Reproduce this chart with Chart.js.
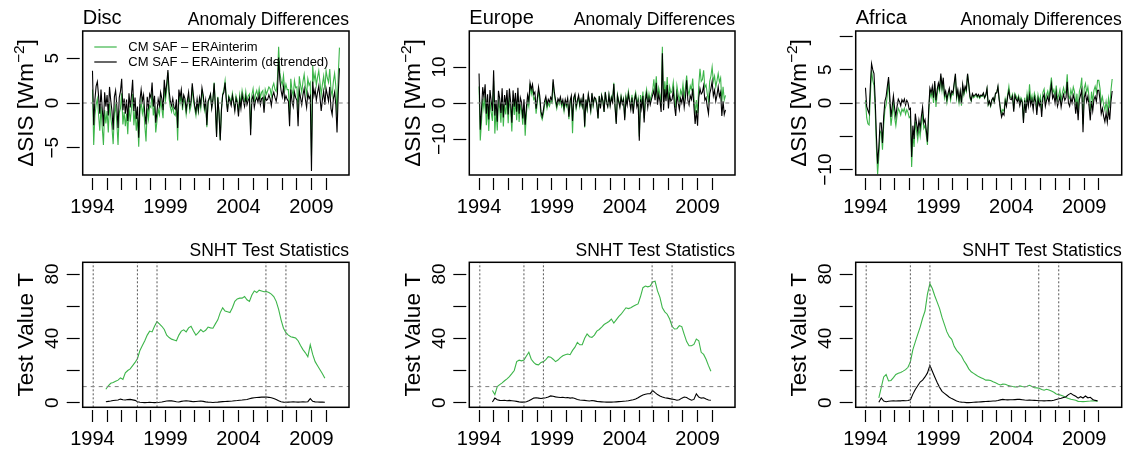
<!DOCTYPE html>
<html><head><meta charset="utf-8">
<script src="https://cdn.jsdelivr.net/npm/chart.js@4.4.1/dist/chart.umd.min.js"></script>
<style>
html,body{margin:0;padding:0;background:#fff;}
body{width:1125px;height:453px;position:relative;overflow:hidden;}
canvas{position:absolute;}
</style></head>
<body>
<canvas id="c0"></canvas><canvas id="c1"></canvas><canvas id="c2"></canvas>
<canvas id="c3"></canvas><canvas id="c4"></canvas><canvas id="c5"></canvas>
<script>
// ---------------- data ----------------
const monthlyStart = 1994;          // Jan 1994, monthly values
const snhtStart = 1994 + 11 / 12;   // SNHT statistics, every 2 months
const snhtStep = 1 / 6;

const yearTicks = [1994,1995,1996,1997,1998,1999,2000,2001,2002,2003,2004,2005,2006,2007,2008,2009,2010];
const yearLabels = [1994, 1999, 2004, 2009];
const breakYears = [1994.05, 1997.08, 1998.42, 2005.88, 2007.25];
const snhtThreshold = 10;

const regions = ['Disc', 'Europe', 'Africa'];
const topSubtitle = 'Anomaly Differences';
const bottomSubtitle = 'SNHT Test Statistics';
const seriesNames = ['CM SAF – ERAinterim', 'CM SAF – ERAinterim (detrended)'];
const topYTitle = ['ΔSIS [Wm', '−2', ']'];
const bottomYTitle = ['Test Value T'];

const discTicks = [-5, 0, 5];        const discTickLabels = ['−5', '0', '5'];
const europeTicks = [-10, 0, 10];    const europeTickLabels = ['−10', '0', '10'];
const africaTicks = [-10, -5, 0, 5, 10]; const africaTickLabels = ['−10', '', '0', '5', ''];
const snhtTicks = [0, 20, 40, 60, 80];   const snhtTickLabels = ['0', '', '40', '', '80'];

const discDiff = [
 1.5,-4.7,-1.4,-0.2,0.5,-1.3,-3.1,-0.4,-2.7,-4.7,-0.8,-2.3,
 -0.9,-3.3,0.1,-1.6,-2.7,-4.6,-1.2,-0.3,-2.2,-4.7,-1.1,-0.6,
 1.1,-2.4,-1.0,-2.6,-1.2,-3.5,-0.3,-2.1,-0.7,1.0,-2.5,-0.8,
 -3.1,-1.6,-4.9,-1.0,0.2,-1.2,-0.4,-2.5,-4.3,-0.6,-1.8,-0.3,
 -0.5,1.2,-1.4,-0.3,-3.3,-2.0,-0.7,-1.3,0.3,-0.6,-1.7,1.7,
 0.3,1.5,3.4,0.5,-0.5,-1.0,-0.3,-1.2,-1.4,-0.4,-4.2,0.8,
 0.0,1.0,-0.8,0.5,0.0,-1.3,-0.2,0.7,-0.9,-0.3,1.8,0.2,
 -0.6,-1.4,0.1,-1.0,0.3,-0.6,1.5,0.5,-0.8,0.0,-2.7,-0.1,
 0.6,0.9,-0.5,0.3,2.3,-0.2,-3.5,0.7,-1.0,-4.1,-0.6,1.0,
 1.5,2.5,0.6,-0.7,0.8,0.5,0.0,1.1,0.2,-0.6,0.8,0.3,
 -1.0,0.9,-0.1,1.4,0.7,0.1,1.3,0.2,0.8,1.0,-2.9,0.9,
 1.6,0.2,1.0,1.4,0.7,1.6,0.6,1.2,1.4,-0.4,1.5,1.0,
 1.4,1.8,1.6,0.8,1.8,2.2,1.5,1.3,2.6,6.3,3.4,2.5,
 2.0,3.1,1.4,2.1,1.5,1.5,-1.3,2.7,1.4,0.8,2.5,1.7,
 1.8,-1.0,3.0,2.0,1.2,2.4,3.2,1.8,1.0,2.7,2.0,2.3,
 -5.9,4.2,2.5,3.3,2.0,2.9,3.6,2.3,0.9,2.1,3.0,1.5,
 3.6,2.8,2.3,3.8,1.5,0.8,2.4,3.3,1.9,-1.4,3.1,6.2];
const discDiffDetr = [
 3.6,-2.5,0.4,1.9,2.4,0.8,-1.2,1.5,-0.6,-2.6,1.2,-0.4,
 0.9,-1.4,1.8,0.3,-0.9,-3.0,0.7,1.4,-0.3,-2.8,0.6,1.3,
 2.7,-0.8,0.5,-1.2,0.4,-2.0,1.1,-0.5,0.8,2.6,-0.9,0.6,
 -1.8,-0.4,-3.9,0.3,1.5,0.2,0.9,-1.2,-2.4,0.7,-0.5,1.0,
 0.6,2.3,-0.4,0.8,-2.2,-1.0,0.4,-0.3,1.2,0.5,-0.8,2.6,
 1.0,2.1,3.7,1.3,0.2,-0.3,0.5,-0.5,-0.7,0.4,-2.8,1.5,
 0.6,1.5,-0.2,0.9,0.5,-0.8,0.3,1.2,-0.4,0.2,2.2,0.8,
 -0.3,-1.0,0.4,-0.8,0.6,-0.2,1.7,0.9,-0.5,0.3,-2.5,0.2,
 0.5,1.0,-0.6,0.4,2.2,-0.4,-3.8,0.6,-1.2,-4.2,-0.8,0.9,
 1.2,2.3,0.3,-1.0,0.6,0.2,-0.3,0.8,0.1,-0.9,0.5,0.0,
 -1.5,0.4,-0.6,0.9,0.2,-0.4,0.7,-0.2,0.3,0.6,-3.6,0.4,
 0.8,-0.5,0.3,0.6,0.1,0.9,-0.2,0.5,0.6,-1.1,0.7,0.3,
 0.4,0.9,0.5,-0.3,0.8,1.2,0.6,0.2,1.0,5.1,2.6,1.4,
 0.7,1.8,0.3,0.8,0.4,0.2,-2.6,1.5,0.2,-0.4,1.2,0.6,
 0.3,-2.6,1.4,0.6,-0.2,0.9,1.6,0.4,-0.5,1.1,0.5,0.8,
 -7.6,2.4,0.8,1.5,0.3,1.2,1.9,0.6,-0.9,0.4,1.3,-0.2,
 1.6,0.9,0.2,1.8,-0.6,-1.3,0.5,1.2,-0.2,-3.3,1.0,3.9];

const europeDiff = [
 4.6,-10.4,-5.2,1.2,-1.6,2.0,-6.2,-0.6,-7.8,0.5,-2.6,-5.0,
 6.2,-8.5,-1.8,-7.6,0.6,-1.4,-5.5,1.6,-6.5,-0.4,-3.2,1.0,
 -5.6,1.6,-1.9,-7.9,1.2,-3.3,0.5,-4.8,1.9,-5.3,-0.8,-2.1,
 -6.0,-0.5,-9.1,-2.8,0.6,-1.0,5.4,2.4,3.8,1.0,1.5,-3.0,
 0.2,3.2,1.0,-3.5,-4.6,-3.0,-0.6,0.8,-1.5,0.0,-0.9,0.5,
 0.0,5.7,2.3,0.0,-1.6,0.5,-0.4,0.9,-1.0,0.1,-2.3,0.2,
 -1.0,0.7,-4.5,0.0,1.4,-8.4,0.8,1.9,-1.6,0.1,1.6,-1.1,
 0.7,-1.1,2.3,-6.8,0.7,-1.8,2.1,0.0,-2.3,2.5,-0.8,1.3,
 1.3,-0.4,-4.2,2.0,-1.3,2.2,0.6,-2.4,3.1,0.3,-0.9,2.3,
 -0.4,1.8,0.6,5.6,-0.6,-5.4,2.4,0.8,-0.8,2.0,0.1,1.3,
 -4.0,2.0,0.2,3.3,1.1,-1.0,2.3,-2.2,1.6,3.0,-0.2,1.3,
 -9.3,2.2,-0.3,3.2,-4.2,2.0,3.8,0.0,2.6,0.7,2.2,3.4,
 6.6,2.6,7.4,1.3,4.2,2.4,-0.7,15.6,0.0,6.0,2.3,7.2,
 0.8,4.5,2.8,3.3,5.8,1.5,-1.3,4.8,2.5,0.5,3.5,2.3,
 5.3,1.6,4.3,7.6,3.6,2.3,4.8,3.8,6.8,1.8,-3.0,0.8,
 -2.8,5.0,9.5,6.0,6.5,9.1,4.3,5.0,2.5,0.5,6.0,7.5,
 10.0,6.0,7.5,4.5,6.2,8.2,5.8,7.0,0.4,4.5,0.8,2.1];
const europeDiffDetr = [
 8.2,-7.4,-2.0,4.4,1.6,5.2,-3.0,2.4,-4.6,3.6,0.5,-2.2,
 9.1,-3.5,0.8,-5.2,3.4,1.2,-2.8,4.1,-4.0,2.2,-0.6,3.6,
 -3.2,4.0,0.4,-5.5,3.5,-1.0,2.8,-2.4,4.2,-3.0,1.5,0.2,
 -4.3,1.0,-6.0,-1.2,2.2,0.5,5.6,3.8,5.2,2.4,3.0,-1.6,
 1.2,4.4,2.0,-2.4,-3.8,-2.0,0.5,1.8,-0.6,1.0,0.2,1.6,
 0.8,6.6,3.0,0.9,-0.8,1.2,0.4,1.7,-0.2,0.9,-1.5,1.0,
 -0.4,1.3,-3.8,0.6,2.0,-5.0,1.5,2.5,-1.0,0.7,2.2,-0.5,
 1.0,-0.8,2.6,-6.5,1.0,-1.5,2.4,0.3,-2.0,2.8,-0.5,1.6,
 1.2,-0.5,-4.3,1.9,-1.5,2.0,0.6,-2.5,3.0,0.2,-1.0,2.2,
 -0.8,1.4,0.2,5.3,-1.0,-5.8,2.0,0.4,-1.2,1.6,-0.3,0.9,
 -4.8,1.2,-0.6,2.5,0.3,-1.8,1.5,-3.0,0.8,2.2,-1.0,0.5,
 -10.5,1.0,-1.5,2.0,-5.4,0.8,2.6,-1.2,1.4,-0.5,1.0,2.2,
 3.5,0.8,5.6,-0.5,2.4,0.6,-2.5,13.8,-2.0,3.8,0.5,5.0,
 -1.5,2.2,0.5,1.0,3.5,-0.8,-3.6,2.5,0.2,-1.8,1.2,0.0,
 2.5,-1.2,1.5,6.3,0.8,-0.5,2.0,1.0,4.0,-1.0,-5.8,-2.0,
 -6.3,1.5,4.0,2.5,3.0,4.8,0.8,1.5,-1.0,-3.0,2.5,4.0,
 6.0,2.0,3.5,0.5,2.2,4.5,1.8,3.0,-3.6,0.5,-3.2,-1.9];

const africaDiff = [
 0.4,-2.2,-3.1,-3.3,1.0,4.9,3.4,2.6,-1.0,-6.6,-10.7,-8.0,
 -4.2,-4.5,-7.0,-3.3,-1.0,-0.3,1.2,3.4,-0.3,-3.4,-1.8,-0.2,
 -2.2,-3.4,-1.9,-0.8,-1.2,-1.8,-0.9,-1.3,-0.8,-1.7,-1.0,-1.4,
 -2.2,-2.0,-9.6,-4.6,-6.6,-2.8,-4.2,-5.5,-3.8,-5.0,-3.2,-1.8,
 -3.8,-3.3,-4.8,-6.3,-1.8,1.6,0.9,1.8,0.0,2.8,-0.6,1.3,
 2.6,1.8,4.0,1.9,3.4,0.7,1.4,0.0,1.1,1.8,0.4,1.4,
 1.2,2.7,4.1,0.6,1.7,0.0,1.5,-0.4,2.5,1.2,2.2,1.7,
 4.3,2.6,0.7,0.3,1.2,0.8,1.0,1.2,0.8,1.1,0.7,1.0,
 1.0,1.4,0.7,1.1,2.1,-0.3,0.2,-0.5,0.4,0.7,0.1,1.4,
 1.6,2.4,0.7,-0.6,-1.5,-1.0,-1.2,0.6,-0.2,1.3,2.5,0.9,
 0.8,1.3,-0.9,1.4,1.0,0.5,1.1,-0.1,0.8,0.4,-2.6,0.8,
 -0.8,1.4,0.1,2.8,0.3,1.1,-0.4,1.5,0.9,-1.1,1.2,0.2,
 1.0,-1.2,1.6,2.1,0.3,1.2,1.8,0.8,2.3,3.8,1.5,2.0,
 1.0,2.6,0.5,1.2,2.0,0.4,1.5,2.3,1.4,1.8,4.3,1.0,
 0.7,2.0,1.2,2.4,1.7,-0.4,1.4,-1.4,1.7,2.4,3.8,-3.2,
 2.2,2.9,1.6,2.4,0.9,-1.2,1.7,0.2,1.9,2.5,1.6,3.4,
 3.4,2.2,0.1,0.9,-0.3,-1.1,0.2,-1.2,0.7,-0.8,1.9,3.6];
const africaDiffDetr = [
 2.3,-0.5,-1.1,-1.6,2.5,5.9,5.0,4.4,0.5,-5.0,-9.1,-6.6,
 -3.0,-3.0,-6.0,-2.0,0.3,1.0,2.5,3.9,1.0,-2.1,-0.5,1.1,
 -0.8,-2.0,-0.5,0.6,0.2,-0.4,0.5,0.1,0.6,-0.3,0.4,0.0,
 -1.0,-0.8,-8.1,-3.4,-5.4,-1.6,-3.0,-4.3,-2.6,-3.8,-2.0,-0.6,
 -3.0,-2.5,-4.0,-5.8,-1.0,2.2,1.5,2.5,0.8,3.3,0.4,2.0,
 3.0,2.2,4.4,2.4,3.8,1.2,1.8,0.5,1.5,2.2,0.9,1.8,
 1.5,3.0,4.4,1.0,2.0,0.4,1.8,0.0,2.8,1.5,2.5,2.0,
 4.4,2.8,1.0,0.4,1.4,1.0,1.2,1.4,1.0,1.3,0.9,1.2,
 1.1,1.5,0.8,1.2,2.2,-0.2,0.3,-0.4,0.5,0.8,0.2,1.5,
 1.5,2.5,0.5,-1.0,-2.1,-1.5,-1.8,0.3,-0.5,1.0,1.8,0.6,
 0.5,1.0,-1.3,1.1,0.6,0.2,0.8,-0.4,0.5,0.1,-3.0,0.4,
 -1.5,0.7,-0.5,1.2,-0.3,0.5,-1.0,0.9,0.3,-1.8,0.6,-0.4,
 0.2,-2.1,0.8,1.3,-0.5,0.4,1.0,0.0,1.5,2.8,0.7,1.2,
 0.0,1.5,-0.5,0.2,1.0,-0.6,0.5,1.3,0.4,0.8,3.2,0.0,
 -0.5,0.8,0.0,1.2,0.5,-1.6,0.2,-2.6,0.5,1.2,2.0,-4.4,
 0.8,1.5,0.2,1.0,-0.5,-2.6,0.3,-1.2,0.5,1.0,0.2,1.9,
 1.9,0.5,-1.6,-0.8,-2.0,-2.8,-1.5,-2.9,-1.0,-2.5,0.2,1.8];

const discSnht = [
 8.3,10.5,12.0,12.5,13.3,14.0,15.4,14.5,18.5,20.0,21.0,23.0,25.0,
 27.5,32.5,35.5,38.5,42.0,44.5,44.0,47.5,50.4,49.0,47.5,45.5,42.0,40.5,39.5,39.0,38.5,42.0,
 44.5,45.3,44.0,46.5,47.5,44.5,42.0,43.5,45.4,44.0,45.0,47.0,46.5,46.3,49.0,51.5,56.0,59.0,57.0,56.5,56.0,59.0,63.0,64.5,
 65.0,65.0,66.0,64.0,63.0,67.0,69.5,68.5,70.0,69.5,69.0,69.1,68.5,67.5,66.0,63.0,58.0,51.5,
 46.3,43.5,42.0,41.0,40.6,40.2,38.5,35.5,33.0,31.0,28.5,36.0,30.0,25.5,23.0,20.5,18.0,15.1];
const discSnhtDetr = [
 0.6,0.8,1.0,1.3,1.5,1.6,2.2,1.8,1.6,1.9,2.0,1.7,1.4,
 0.5,0.2,0.1,0.0,0.1,0.2,0.1,0.0,0.1,0.2,0.4,0.7,1.0,1.2,1.1,0.9,0.6,0.4,
 0.8,1.0,1.1,1.0,0.8,0.6,0.7,0.9,1.0,0.8,0.5,0.3,0.2,0.1,0.2,0.3,0.5,0.6,0.7,0.8,0.9,1.0,1.2,1.3,
 1.5,1.6,1.8,2.0,2.4,2.8,3.0,3.2,3.3,3.4,3.4,3.5,3.3,3.0,2.6,2.0,1.2,0.6,
 0.3,0.2,0.3,0.4,0.5,0.4,0.3,0.4,0.5,0.4,0.6,2.5,0.8,0.5,0.4,0.3,0.3,0.2];

const europeSnht = [
 7.5,5.0,10.0,11.2,12.3,13.6,14.8,16.2,18.0,20.0,25.5,26.4,26.0,
 26.5,29.0,31.3,27.0,25.0,23.8,23.5,25.0,25.5,26.8,28.6,28.3,27.0,25.5,26.5,28.0,29.2,29.8,
 30.2,29.8,32.5,34.5,37.5,36.0,36.0,40.0,42.7,41.0,40.6,42.0,44.5,45.5,47.0,48.6,49.5,50.5,52.0,49.5,51.5,53.5,55.0,57.0,
 59.0,58.5,59.0,60.0,60.8,61.4,66.0,71.5,72.5,72.0,72.5,75.0,75.5,69.5,65.5,59.0,56.5,55.0,
 52.0,47.5,45.8,46.0,47.9,47.3,42.5,38.0,35.4,35.4,36.2,39.5,38.5,31.3,30.0,27.0,23.0,19.5];
const europeSnhtDetr = [
 0.4,2.8,1.8,1.4,1.3,1.5,1.2,1.4,1.2,1.0,0.8,0.5,0.3,
 0.3,0.6,1.2,2.0,2.8,3.0,2.8,2.6,2.8,3.0,3.5,4.2,4.0,3.6,3.4,3.2,3.3,3.0,
 3.2,2.8,3.0,2.6,2.0,1.6,1.5,1.4,1.2,1.0,1.3,1.1,0.8,0.6,0.5,0.4,0.3,0.3,0.3,0.4,0.5,0.6,0.7,0.9,
 1.0,1.2,1.5,1.8,2.2,3.0,4.0,4.8,5.2,5.5,5.6,7.5,6.2,5.0,4.2,3.5,3.0,2.8,
 2.5,2.2,2.0,1.5,1.8,2.8,3.5,3.2,2.2,1.5,2.0,5.5,3.5,2.8,3.0,2.2,1.6,1.5];

const africaSnht = [
 2.9,9.5,16.0,17.5,13.5,13.8,15.6,17.5,18.3,18.8,19.6,20.5,22.0,
 25.5,33.0,37.8,42.5,47.0,52.5,57.0,67.5,74.1,71.0,66.5,62.5,58.5,53.0,48.5,44.0,41.0,39.4,
 35.0,32.5,30.8,29.0,26.0,23.8,21.0,19.2,18.2,17.2,16.2,15.5,14.8,14.0,14.0,13.8,13.0,12.3,11.6,11.0,11.5,11.4,10.8,10.4,
 10.0,9.8,9.7,10.4,10.0,9.7,10.2,10.8,10.0,9.3,9.2,8.9,8.2,7.7,8.3,7.8,7.2,6.5,
 5.4,5.0,4.6,4.0,3.2,2.6,2.1,1.8,1.5,0.8,0.7,0.6,0.7,0.9,1.0,1.2,1.0,0.8];
const africaSnhtDetr = [
 0.2,2.9,1.0,0.6,0.9,1.0,1.1,1.0,1.2,1.1,1.3,1.2,1.3,
 1.8,5.3,8.2,10.5,12.8,14.0,16.0,18.5,23.2,19.5,16.0,12.5,9.5,7.0,5.8,4.6,3.4,2.5,
 1.8,1.0,0.6,0.3,0.2,0.0,0.0,0.1,0.2,0.3,0.4,0.5,0.6,0.7,0.8,0.9,1.0,1.0,1.3,1.7,2.0,1.8,1.7,1.8,
 1.8,1.9,2.0,2.0,1.8,1.6,1.5,1.6,1.5,1.4,1.3,1.2,1.2,1.1,1.2,1.3,1.2,1.5,
 2.0,2.4,2.7,3.2,3.7,5.0,5.8,4.7,4.0,2.8,3.7,2.9,4.1,3.0,3.3,2.0,1.4,1.2];

// ---------------- layout / style ----------------
const FONT = '"Liberation Sans", Arial, Helvetica, sans-serif';
const GREEN = '#3DB54A';
const X_MIN = 1993.33, X_MAX = 2011.57;
const CANVAS_W = 352;
const COLS = [{left: 0, boxL: 82.7, boxR: 349}, {left: 387, boxL: 82.3, boxR: 348}, {left: 773, boxL: 82.7, boxR: 348.7}];
const ROWS = [{top: 0, h: 226, boxT: 31, boxB: 175}, {top: 226, h: 227, boxT: 36.3, boxB: 181.3}];

const toMonthly = vals => vals.map((v, i) => ({x: monthlyStart + i / 12, y: v}));
const toSnht = vals => vals.map((v, i) => ({x: snhtStart + i * snhtStep, y: v}));

const rPlugin = {
  id: 'rstyle',
  afterDraw(chart, args, o) {
    const ctx = chart.ctx, a = chart.chartArea, ys = chart.scales.y;
    ctx.save();
    ctx.fillStyle = '#000';
    // box
    ctx.strokeStyle = '#000'; ctx.lineWidth = 1.5;
    ctx.strokeRect(a.left, a.top, a.right - a.left, a.bottom - a.top);
    // titles
    ctx.textBaseline = 'alphabetic';
    if (o.title) { ctx.font = '20px ' + FONT; ctx.textAlign = 'left'; ctx.fillText(o.title, a.left, a.top - 6.7); }
    if (o.subtitle) { ctx.font = '17.5px ' + FONT; ctx.textAlign = 'right'; ctx.fillText(o.subtitle, a.right, a.top - 6.5); }
    // rotated y tick labels
    ctx.font = '19px ' + FONT; ctx.textAlign = 'center';
    o.yTicks.forEach((v, i) => {
      const t = o.yTickLabels[i]; if (!t) return;
      ctx.save(); ctx.translate(a.left - 24.5, ys.getPixelForValue(v)); ctx.rotate(-Math.PI / 2);
      ctx.fillText(t, 0, 0); ctx.restore();
    });
    // rotated y title (with optional superscript)
    const big = '22.5px ' + FONT, small = '15.5px ' + FONT;
    const parts = o.yTitle;
    ctx.font = big; const w0 = ctx.measureText(parts[0]).width;
    let w1 = 0, w2 = 0;
    if (parts.length > 1) { ctx.font = small; w1 = ctx.measureText(parts[1]).width; ctx.font = big; w2 = ctx.measureText(parts[2]).width; }
    const tw = w0 + w1 + w2;
    ctx.save(); ctx.translate(a.left - 49.3, (a.top + a.bottom) / 2); ctx.rotate(-Math.PI / 2);
    ctx.textAlign = 'left';
    ctx.font = big; ctx.fillText(parts[0], -tw / 2, 0);
    if (parts.length > 1) {
      ctx.font = small; ctx.fillText(parts[1], -tw / 2 + w0, -9);
      ctx.font = big; ctx.fillText(parts[2], -tw / 2 + w0 + w1, 0);
    }
    ctx.restore();
    // legend
    if (o.legend) {
      ctx.font = '13px ' + FONT; ctx.textAlign = 'left'; ctx.textBaseline = 'middle';
      o.legend.forEach((it, i) => {
        const y = a.top + 16 + i * 15;
        ctx.strokeStyle = it.color; ctx.lineWidth = 1.2;
        ctx.beginPath(); ctx.moveTo(a.left + 11.6, y); ctx.lineTo(a.left + 34, y); ctx.stroke();
        ctx.fillStyle = '#000'; ctx.fillText(it.text, a.left + 45.6, y);
      });
    }
    ctx.restore();
  }
};

function makeChart(id, col, row, datasets, yMin, yMax, pl) {
  const cv = document.getElementById(id);
  cv.width = CANVAS_W; cv.height = row.h;
  cv.style.left = col.left + 'px'; cv.style.top = row.top + 'px';
  cv.style.width = CANVAS_W + 'px'; cv.style.height = row.h + 'px';
  return new Chart(cv, {
    type: 'line',
    data: { datasets },
    options: {
      responsive: false, animation: false, devicePixelRatio: 1,
      layout: { padding: { top: row.boxT, right: CANVAS_W - col.boxR, bottom: 0, left: 0 } },
      elements: { point: { radius: 0 }, line: { tension: 0, borderWidth: 1.1 } },
      plugins: { legend: { display: false }, tooltip: { enabled: false }, rstyle: pl },
      scales: {
        x: {
          type: 'linear', min: X_MIN, max: X_MAX, bounds: 'data',
          afterBuildTicks: s => { s.ticks = yearTicks.map(v => ({ value: v })); },
          afterFit: s => { s.height = row.h - row.boxB; },
          ticks: { autoSkip: false, maxRotation: 0, minRotation: 0, padding: 5, color: '#000',
                   font: { family: FONT, size: 20 },
                   callback: v => yearLabels.includes(v) ? String(v) : '' },
          grid: { drawOnChartArea: false, drawTicks: true, tickLength: 15, tickColor: '#000', tickWidth: 1.2,
                  tickBorderDash: [0, 3, 12, 40] },
          border: { display: false }
        },
        y: {
          type: 'linear', min: yMin, max: yMax, bounds: 'data',
          afterBuildTicks: s => { s.ticks = pl.yTicks.map(v => ({ value: v })); },
          afterFit: s => { s.width = col.boxL; },
          ticks: { display: false },
          grid: { drawOnChartArea: false, drawTicks: true, tickLength: 16, tickColor: '#000', tickWidth: 1.2,
                  tickBorderDash: [13, 40] },
          border: { display: false }
        }
      }
    },
    plugins: [rPlugin]
  });
}

const topData = [[discDiff, discDiffDetr], [europeDiff, europeDiffDetr], [africaDiff, africaDiffDetr]];
const topRange = [[-8.06, 8.06], [-20, 20], [-10.8, 10.8]];
const topTicks = [[discTicks, discTickLabels], [europeTicks, europeTickLabels], [africaTicks, africaTickLabels]];
const botData = [[discSnht, discSnhtDetr], [europeSnht, europeSnhtDetr], [africaSnht, africaSnhtDetr]];
const SNHT_MIN = -2.9, SNHT_MAX = 87.3;

for (let c = 0; c < 3; c++) {
  const ds = [
    { label: seriesNames[1], data: toMonthly(topData[c][1]), borderColor: '#000', order: 1 },
    { label: seriesNames[0], data: toMonthly(topData[c][0]), borderColor: GREEN, order: 2 },
    { label: 'zero', data: [{x: X_MIN, y: 0}, {x: X_MAX, y: 0}], borderColor: '#8a8a8a', borderWidth: 1.1, borderDash: [4, 4], order: 0 }
  ];
  makeChart('c' + c, COLS[c], ROWS[0], ds, topRange[c][0], topRange[c][1], {
    title: regions[c], subtitle: topSubtitle, yTitle: topYTitle,
    yTicks: topTicks[c][0], yTickLabels: topTicks[c][1],
    legend: c === 0 ? [{ text: ds[1].label, color: GREEN }, { text: ds[0].label, color: '#000' }] : null
  });

  const bds = [
    { label: seriesNames[1], data: toSnht(botData[c][1]), borderColor: '#000', order: 1 },
    { label: seriesNames[0], data: toSnht(botData[c][0]), borderColor: GREEN, order: 2 },
    { label: 'threshold', data: [{x: X_MIN, y: snhtThreshold}, {x: X_MAX, y: snhtThreshold}], borderColor: '#8a8a8a', borderWidth: 1.1, borderDash: [4, 4], order: 0 }
  ].concat(breakYears.map(b => ({ label: 'break', data: [{x: b, y: SNHT_MIN}, {x: b, y: SNHT_MAX}], borderColor: '#666', borderWidth: 1.1, borderDash: [2, 2], order: 0 })));
  makeChart('c' + (c + 3), COLS[c], ROWS[1], bds, SNHT_MIN, SNHT_MAX, {
    title: null, subtitle: bottomSubtitle, yTitle: bottomYTitle,
    yTicks: snhtTicks, yTickLabels: snhtTickLabels, legend: null
  });
}
</script>
</body></html>
